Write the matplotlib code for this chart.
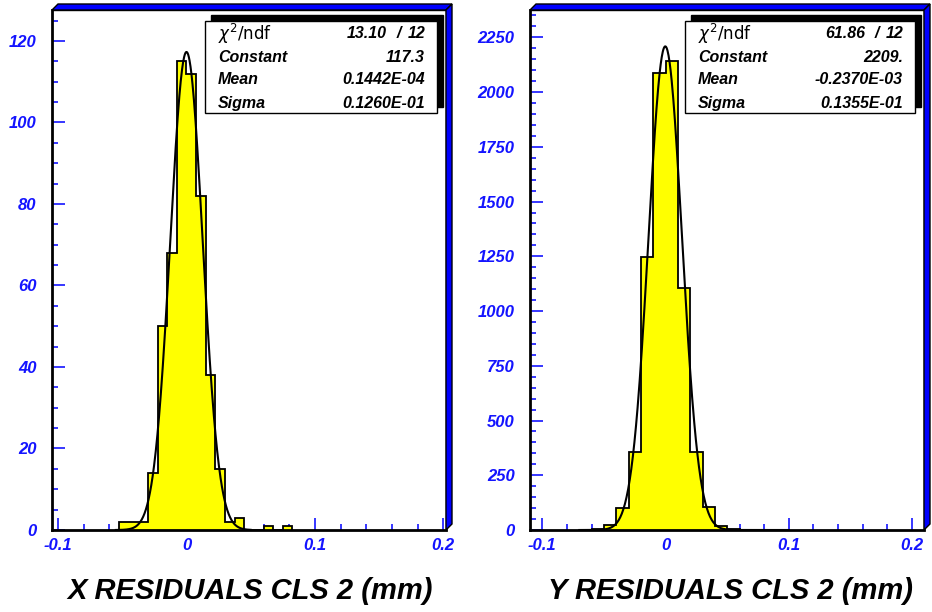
import numpy as np
import matplotlib
matplotlib.use("Agg")
import matplotlib.pyplot as plt
from matplotlib.patches import Polygon, Rectangle
from matplotlib.ticker import MultipleLocator

plt.rcParams['font.family'] = ['Liberation Sans', 'DejaVu Sans']
plt.rcParams['axes.unicode_minus'] = False

# X residuals: bin edges (width 0.0075) and counts
x_edges = [-0.0525, -0.045, -0.0375, -0.03, -0.0225, -0.015, -0.0075, 0.0,
           0.0075, 0.015, 0.0225, 0.03, 0.0375, 0.045, 0.0525, 0.06, 0.0675,
           0.075, 0.0825]
x_counts = [2, 2, 2, 14, 50, 68, 115, 112, 82, 38, 15, 2, 3, 0, 0, 1, 0, 1]
x_fit = {'chi2': '13.10', 'ndf': '12', 'const': 117.3, 'mean': 0.1442E-04,
         'sigma': 0.1260E-01}
x_fit_txt = ['117.3', '0.1442E-04', '0.1260E-01']

# Y residuals: bin edges (width 0.01) and counts
y_edges = [-0.07, -0.06, -0.05, -0.04, -0.03, -0.02, -0.01, 0.0, 0.01, 0.02,
           0.03, 0.04, 0.05, 0.06, 0.07, 0.08, 0.09, 0.10]
y_counts = [1, 4, 25, 100, 355, 1245, 2088, 2140, 1105, 357, 107, 18, 5, 2,
            1, 1, 1]
y_fit = {'chi2': '61.86', 'ndf': '12', 'const': 2209.0, 'mean': -0.2370E-03,
         'sigma': 0.1355E-01}
y_fit_txt = ['2209.', '-0.2370E-03', '0.1355E-01']

W, H = 932, 612
BLUE = '#1414ff'

fig = plt.figure(figsize=(W / 100, H / 100), dpi=100)


def px_axes(l, r, t, b):
    return fig.add_axes([l / W, 1 - b / H, (r - l) / W, (b - t) / H])


def frame3d(l, r, t, b, d=6):
    # blue 3D strips on top and right of the frame (pixel coords)
    def f(x, y):
        return (x / W, 1 - y / H)
    top = [f(l, t), f(l + d, t - d), f(r + d, t - d), f(r, t)]
    right = [f(r, t), f(r + d, t - d), f(r + d, b - d), f(r, b)]
    for pts in (top, right):
        fig.patches.append(Polygon(pts, closed=True, facecolor='blue',
                                   edgecolor='black', lw=1,
                                   transform=fig.transFigure, zorder=5))


def stats_box(l, r, t, b, fit, vals):
    d = 6
    def f(x, y):
        return (x / W, 1 - y / H)
    fig.patches.append(Rectangle(f(l + d, b - d), (r - l) / W, (b - t) / H,
                                 facecolor='black', edgecolor='black',
                                 transform=fig.transFigure, zorder=6))
    fig.patches.append(Rectangle(f(l, b), (r - l) / W, (b - t) / H,
                                 facecolor='white', edgecolor='black', lw=1,
                                 transform=fig.transFigure, zorder=7))
    rows = [t + 13, t + 36, t + 59, t + 82]
    kw = dict(fontsize=11.5, fontweight='bold', fontstyle='italic',
              va='center', zorder=8)
    fig.text((l + 13) / W, 1 - rows[0] / H, r'$\chi^2$/ndf', fontsize=12,
             va='center', zorder=8, family='DejaVu Sans')
    fig.text((r - 50) / W, 1 - rows[0] / H, fit['chi2'], ha='right', **kw)
    fig.text((r - 38) / W, 1 - rows[0] / H, '/', ha='center', **kw)
    fig.text((r - 12) / W, 1 - rows[0] / H, fit['ndf'], ha='right', **kw)
    for name, v, y in zip(['Constant', 'Mean', 'Sigma'], vals, rows[1:]):
        fig.text((l + 13) / W, 1 - y / H, name, ha='left', **kw)
        fig.text((r - 12) / W, 1 - y / H, v, ha='right', **kw)


def panel(ax, edges, counts, fit, xlim, ylim, ymaj, ymin, fit_rng):
    edges = np.array(edges)
    counts = np.array(counts)
    ax.stairs(counts, edges, fill=True, color='#ffff00', zorder=2)
    ax.stairs(counts, edges, color='black', lw=1.3, baseline=0, zorder=3)
    xs = np.linspace(fit_rng[0], fit_rng[1], 400)
    g = fit['const'] * np.exp(-0.5 * ((xs - fit['mean']) / fit['sigma']) ** 2)
    ax.plot(xs, g, color='black', lw=1.5, zorder=4)
    ax.set_xlim(*xlim)
    ax.set_ylim(*ylim)
    ax.xaxis.set_major_locator(MultipleLocator(0.1))
    ax.xaxis.set_minor_locator(MultipleLocator(0.02))
    ax.yaxis.set_major_locator(MultipleLocator(ymaj))
    ax.yaxis.set_minor_locator(MultipleLocator(ymin))
    ax.tick_params(which='both', direction='in', color=BLUE, width=1.2,
                   top=False, right=False)
    ax.tick_params(which='major', length=9)
    ax.tick_params(which='minor', length=4.5)
    ax.tick_params(axis='y', pad=11, labelsize=12, labelcolor=BLUE)
    ax.tick_params(axis='x', pad=6, labelsize=12, labelcolor=BLUE)
    for lab in ax.get_xticklabels() + ax.get_yticklabels():
        lab.set_fontweight('bold')
        lab.set_fontstyle('italic')
    ax.xaxis.set_major_formatter(lambda v, p: '0' if abs(v) < 1e-9 else f'{v:g}')
    for s in ('left', 'bottom'):
        ax.spines[s].set_linewidth(2)
    for s in ('top', 'right'):
        ax.spines[s].set_linewidth(1)


ax1 = px_axes(52, 446, 10, 530)
panel(ax1, x_edges, x_counts, x_fit, (-0.1047, 0.2021), (0, 127.6), 20, 5,
      (-0.055, 0.05))
ax2 = px_axes(530, 924, 10, 530)
panel(ax2, y_edges, y_counts, y_fit, (-0.11, 0.2097), (0, 2375), 250, 50,
      (-0.07, 0.1))

frame3d(52, 446, 10, 530)
frame3d(530, 924, 10, 530)
stats_box(205, 437, 21, 113, x_fit, x_fit_txt)
stats_box(685, 915, 21, 113, y_fit, y_fit_txt)

fig.text(250 / W, 1 - 591 / H, 'X RESIDUALS CLS 2 (mm)', ha='center',
         va='center', fontsize=21, fontweight='bold', fontstyle='italic')
fig.text(730 / W, 1 - 591 / H, 'Y RESIDUALS CLS 2 (mm)', ha='center',
         va='center', fontsize=21, fontweight='bold', fontstyle='italic')

fig.savefig('out.png', dpi=100)
